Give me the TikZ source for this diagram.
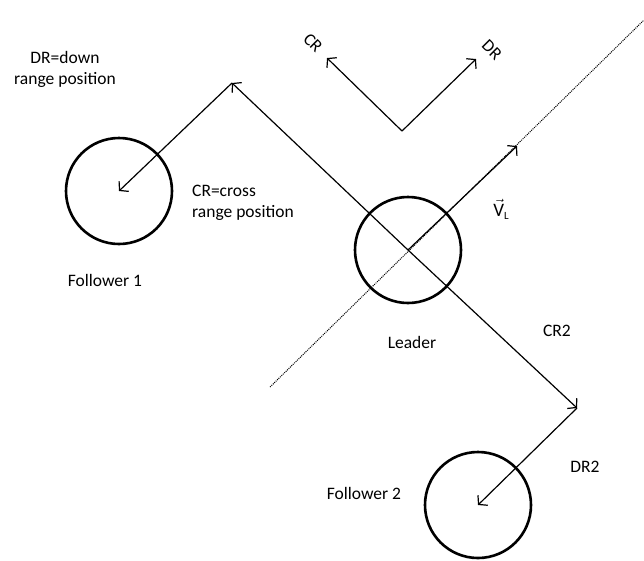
\documentclass[tikz,border=0pt]{standalone}
\usepackage{fontspec}
\setmainfont{Carlito}
\usetikzlibrary{arrows.meta}
\begin{document}
\begin{tikzpicture}[x=1pt,y=-1pt,
  body/.style={circle,draw,line width=2.6pt,minimum size=106pt,inner sep=0pt},
  vec/.style={line width=1.2pt,-{Straight Barb[length=6pt,width=14pt,line width=1.2pt]}},
  lbl/.style={font=\fontsize{17.5}{21}\selectfont,inner sep=0pt},
  track/.style={dash pattern=on 1pt off 1pt,line width=1pt}]
\useasboundingbox (0,0) rectangle (644,560);
% bodies
\node[body] (L) at (408,250) {};
\node[body] (F1) at (119,191) {};
\node[body] (F2) at (478,505) {};
% coordinates
\coordinate (ftop) at (232,83);
\coordinate (fbot) at (577,408);
\coordinate (ax) at (402,131);
\coordinate (axCR) at (327,58);
\coordinate (axDR) at (476,59);
\coordinate (vl) at (517,146);
\coordinate (d1) at (270,387);
\coordinate (d2) at (644,20);
% dotted track
\draw[track] (d1) -- (d2);
% velocity
\draw[vec] (L.center) -- (vl);
% follower 1
\draw[vec] (L.center) -- (ftop);
\draw[vec] (ftop) -- (F1.center);
% follower 2
\draw[vec] (L.center) -- (fbot);
\draw[vec] (fbot) -- (F2.center);
% axes
\draw[vec] (ax) -- (axCR);
\draw[vec] (ax) -- (axDR);
\node[lbl,rotate=-45] (tCR) at (313,43) {CR};
\node[lbl,rotate=-45] (tDR) at (492,50) {DR};
% labels
\node[lbl,align=center] (tdr) at (65,69) {DR=down\\range position};
\node[lbl,align=left,anchor=west] (tcr) at (192,203) {CR=cross\\range position};
\node[lbl] (tf1) at (105,280) {Follower 1};
\node[lbl] (tL) at (412,342) {Leader};
\node[lbl] (tCR2) at (557,331) {CR2};
\node[lbl] (tDR2) at (585,467) {DR2};
\node[lbl] (tf2) at (364,493) {Follower 2};
\node[lbl] (tV) at (501,209) {\fontsize{19}{21}\selectfont$\vec{\mathrm{V}}$\raisebox{-3pt}{\fontsize{11}{12}\selectfont L}};
\end{tikzpicture}
\end{document}
